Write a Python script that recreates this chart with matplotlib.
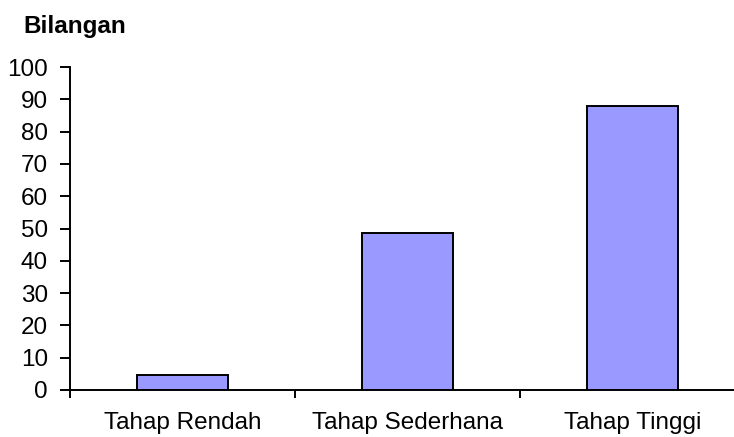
import numpy as np
import matplotlib
matplotlib.use('Agg')
import matplotlib.pyplot as plt

categories = ['Tahap Rendah', 'Tahap Sederhana', 'Tahap Tinggi']
values = [4.5, 48.5, 88]
y_ticks = list(range(0, 101, 10))

plt.rcParams['font.family'] = ['Liberation Sans', 'DejaVu Sans']

W, H = 734, 437
fig = plt.figure(figsize=(W / 100, H / 100), dpi=100)
# axes placed in pixel terms: left spine x=70, zero line y=390, top (100) y=67
ax = fig.add_axes([70 / W, (H - 390) / H, (W - 70) / W, (390 - 67) / H])

x = np.arange(len(categories))
ax.bar(x, values, width=0.405, color='#9999ff', edgecolor='black', linewidth=1.4)

ax.set_yticks(y_ticks)
ax.set_ylim(0, 100)
ax.set_xticks(x)
ax.set_xticklabels(categories)
ax.set_xticks(np.arange(len(categories) + 1) - 0.5, minor=True)
# the category axis runs past the right edge of the picture
ax.set_xlim(-0.5, -0.5 + (W - 70) / 225)

for s in ['top', 'right']:
    ax.spines[s].set_visible(False)
for s in ['left', 'bottom']:
    ax.spines[s].set_linewidth(1.4)

ax.tick_params(axis='y', direction='out', length=7, width=1.4, labelsize=17.5, pad=9)
ax.tick_params(axis='x', which='major', length=0, labelsize=17.5, pad=16)
ax.tick_params(axis='x', which='minor', direction='out', length=6, width=1.4)

fig.text(23 / W, 1 - 27 / H, 'Bilangan', fontsize=17.5, fontweight='bold',
         ha='left', va='center')

fig.savefig('out.png', dpi=100)
